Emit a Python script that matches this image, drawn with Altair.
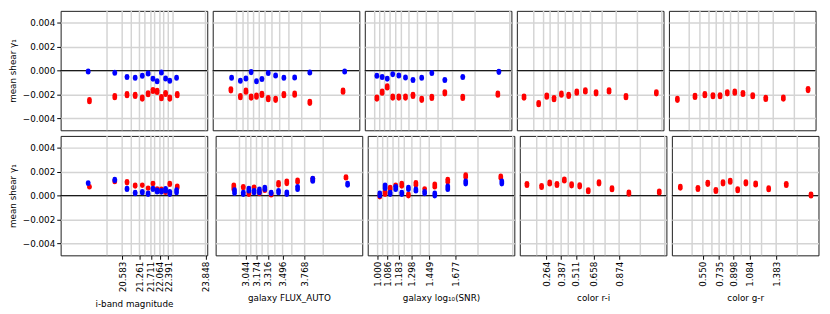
import altair as alt
import pandas as pd

# ---------------- data ----------------
x_titles = ["i-band magnitude", "galaxy FLUX_AUTO", "galaxy log\u2081\u2080(SNR)", "color r-i", "color g-r"]
y_title = "mean shear \u03b3\u2081"

x_domains = [[18.17, 23.92], [2.670, 4.479], [0.914, 2.189], [0.040, 1.271], [0.198, 1.864]]

bin_edges = [
    [19.989, 20.583, 20.941, 21.261, 21.474, 21.711, 21.855, 22.064, 22.210, 22.391, 22.579, 23.848],
    [2.964, 3.044, 3.104, 3.174, 3.244, 3.316, 3.401, 3.496, 3.610, 3.768, 3.997],
    [1.000, 1.044, 1.086, 1.134, 1.183, 1.232, 1.298, 1.372, 1.449, 1.551, 1.677, 1.873, 2.175],
    [0.182, 0.264, 0.319, 0.387, 0.447, 0.511, 0.578, 0.658, 0.756, 0.874, 1.052, 1.257],
    [0.428, 0.550, 0.653, 0.735, 0.817, 0.898, 0.987, 1.084, 1.217, 1.383, 1.623],
]

tick_labels = [
    [20.583, 21.261, 21.711, 22.064, 22.391, 23.848],
    [3.044, 3.174, 3.316, 3.496, 3.768],
    [1.000, 1.086, 1.183, 1.298, 1.449, 1.677],
    [0.264, 0.387, 0.511, 0.658, 0.874],
    [0.550, 0.735, 0.898, 1.084, 1.383],
]

x_red = [
    [19.300, 20.293, 20.773, 21.093, 21.372, 21.600, 21.791, 21.954, 22.122, 22.286, 22.450, 22.743],
    [2.894, 3.011, 3.080, 3.144, 3.210, 3.277, 3.355, 3.446, 3.548, 3.681, 3.868, 4.278],
    [1.019, 1.065, 1.109, 1.157, 1.210, 1.268, 1.333, 1.409, 1.497, 1.610, 1.766, 2.071],
    [0.100, 0.223, 0.291, 0.352, 0.414, 0.475, 0.543, 0.615, 0.705, 0.814, 0.956, 1.211],
    [0.294, 0.494, 0.606, 0.698, 0.779, 0.861, 0.946, 1.039, 1.150, 1.298, 1.498, 1.779],
]
x_blue = [
    [19.250, 20.293, 20.773, 21.093, 21.372, 21.600, 21.791, 21.954, 22.122, 22.286, 22.450, 22.716],
    [2.903, 3.011, 3.080, 3.144, 3.210, 3.277, 3.355, 3.446, 3.548, 3.681, 3.868, 4.298],
    [1.019, 1.065, 1.109, 1.157, 1.210, 1.268, 1.333, 1.409, 1.497, 1.610, 1.766, 2.080],
    None,
    None,
]

# top row: mean shear per bin
top_red = [
    [-0.00252, -0.00219, -0.00202, -0.00208, -0.00230, -0.00194, -0.00167, -0.00175, -0.00227, -0.00192, -0.00230, -0.00202],
    [-0.00161, -0.00219, -0.00173, -0.00222, -0.00214, -0.00200, -0.00235, -0.00241, -0.00202, -0.00198, -0.00266, -0.00173],
    [-0.00230, -0.00181, -0.00137, -0.00222, -0.00222, -0.00222, -0.00208, -0.00241, -0.00225, -0.00186, -0.00225, -0.00198],
    [-0.00222, -0.00277, -0.00214, -0.00235, -0.00198, -0.00208, -0.00181, -0.00170, -0.00186, -0.00170, -0.00219, -0.00186],
    [-0.00241, -0.00216, -0.00202, -0.00211, -0.00211, -0.00186, -0.00181, -0.00192, -0.00211, -0.00233, -0.00230, -0.00159],
]
top_blue = [
    [-0.00008, -0.00019, -0.00054, -0.00060, -0.00044, -0.00025, -0.00068, -0.00090, -0.00016, -0.00066, -0.00085, -0.00060],
    [-0.00060, -0.00085, -0.00066, -0.00013, -0.00090, -0.00071, -0.00021, -0.00041, -0.00060, -0.00058, -0.00016, -0.00008],
    [-0.00044, -0.00054, -0.00068, -0.00030, -0.00041, -0.00058, -0.00079, -0.00060, -0.00021, -0.00079, -0.00054, -0.00011],
    None,
    None,
]

# bottom row: spread (low / high) of the mean shear per bin
bot_red_lo = [
    [0.00070, 0.00115, 0.00105, 0.00078, 0.00084, 0.00060, 0.00098, 0.00052, 0.00050, 0.00025, 0.00091, 0.00064],
    [0.00050, 0.00064, 0.00009, 0.00068, 0.00015, 0.00042, 0.00004, 0.00086, 0.00099, 0.00113, 0.00125, 0.00146],
    [-0.00012, 0.00009, 0.00050, 0.00086, 0.00078, -0.00004, 0.00086, 0.00055, 0.00070, 0.00113, 0.00152, 0.00146],
    [0.00083, 0.00066, 0.00096, 0.00083, 0.00121, 0.00080, 0.00072, 0.00031, 0.00097, 0.00047, 0.00011, 0.00020],
    [0.00061, 0.00050, 0.00093, 0.00033, 0.00097, 0.00110, 0.00039, 0.00097, 0.00088, 0.00047, 0.00083, -0.00005],
]
bot_red_hi = [
    [0.00078, 0.00125, 0.00119, 0.00091, 0.00091, 0.00066, 0.00106, 0.00060, 0.00058, 0.00032, 0.00105, 0.00083],
    [0.00091, 0.00078, 0.00029, 0.00074, 0.00029, 0.00050, 0.00017, 0.00111, 0.00124, 0.00132, 0.00145, 0.00160],
    [0.00001, 0.00037, 0.00072, 0.00091, 0.00105, 0.00015, 0.00111, 0.00060, 0.00099, 0.00138, 0.00176, 0.00165],
    [0.00103, 0.00086, 0.00116, 0.00103, 0.00141, 0.00100, 0.00092, 0.00051, 0.00117, 0.00067, 0.00031, 0.00040],
    [0.00081, 0.00070, 0.00113, 0.00053, 0.00117, 0.00130, 0.00059, 0.00117, 0.00108, 0.00067, 0.00103, 0.00015],
]
bot_blue_lo = [
    [0.00100, 0.00124, 0.00050, 0.00015, 0.00023, 0.00009, 0.00050, 0.00029, 0.00028, 0.00037, 0.00009, 0.00023],
    [0.00017, 0.00009, 0.00037, 0.00023, 0.00023, 0.00050, 0.00015, 0.00023, 0.00009, 0.00050, 0.00119, 0.00086],
    [-0.00004, 0.00058, 0.00009, 0.00050, 0.00009, 0.00050, 0.00037, 0.00015, -0.00004, 0.00050, 0.00097, 0.00097],
    None,
    None,
]
bot_blue_hi = [
    [0.00110, 0.00138, 0.00064, 0.00029, 0.00037, 0.00023, 0.00064, 0.00049, 0.00045, 0.00062, 0.00037, 0.00050],
    [0.00050, 0.00029, 0.00064, 0.00045, 0.00056, 0.00072, 0.00029, 0.00045, 0.00031, 0.00078, 0.00146, 0.00105],
    [0.00023, 0.00091, 0.00029, 0.00078, 0.00029, 0.00072, 0.00056, 0.00037, 0.00023, 0.00083, 0.00124, 0.00124],
    None,
    None,
]

y_domain = [-0.005, 0.005]
y_ticks = [-0.004, -0.002, 0.0, 0.002, 0.004]

# ---------------- styling ----------------
W, H = 150.4, 122.5
RED, BLUE = "#ff0000", "#0000ff"
GRID = "#d4d4d4"
CAP = 4.8


def panel(p, row):
    first = p == 0
    bottom = row == 1
    xs = alt.Scale(domain=x_domains[p], nice=False, zero=False)
    ys = alt.Scale(domain=y_domain, nice=False, zero=False)
    if bottom:
        xaxis = alt.Axis(values=tick_labels[p], format=".3f", labelAngle=-90, grid=False,
                         domain=False, labelFlush=False, labelOverlap=False, title=x_titles[p])
    else:
        xaxis = None
    if first:
        yaxis = alt.Axis(values=y_ticks, format=".3f", grid=True, domain=False,
                         labelFlush=False, labelOverlap=False, title=y_title)
    else:
        yaxis = alt.Axis(values=y_ticks, grid=True, domain=False, labels=False,
                         ticks=False, title=None)

    vgrid = alt.Chart(pd.DataFrame({"x": bin_edges[p]})).mark_rule(
        color=GRID, strokeWidth=1.5
    ).encode(x=alt.X("x:Q", scale=xs, axis=xaxis))

    zero = alt.Chart(pd.DataFrame({"lo": [0.0]})).mark_rule(
        color="#1a1a1a", strokeWidth=1.2
    ).encode(y=alt.Y("lo:Q", scale=ys, axis=yaxis))

    layers = [vgrid, zero]
    if not bottom:
        series = [(x_red[p], top_red[p], RED, 1.3), (x_blue[p], top_blue[p], BLUE, 0.7)]
        for xv, cv, col, off in series:
            if cv is None:
                continue
            df = pd.DataFrame({"x": xv, "lo": cv, "hi": cv})
            layers.append(
                alt.Chart(df).mark_rule(color=col, strokeWidth=CAP, strokeCap="round",
                                        yOffset=-off, y2Offset=off)
                .encode(x=alt.X("x:Q", scale=xs, axis=xaxis),
                        y=alt.Y("lo:Q", scale=ys, axis=yaxis), y2="hi:Q")
            )
    else:
        series = [(x_red[p], bot_red_lo[p], bot_red_hi[p], RED),
                  (x_blue[p], bot_blue_lo[p], bot_blue_hi[p], BLUE)]
        for xv, lo, hi, col in series:
            if lo is None:
                continue
            df = pd.DataFrame({"x": xv, "lo": lo, "hi": hi})
            layers.append(
                alt.Chart(df).mark_rule(color=col, strokeWidth=CAP, strokeCap="round")
                .encode(x=alt.X("x:Q", scale=xs, axis=xaxis),
                        y=alt.Y("lo:Q", scale=ys, axis=yaxis), y2="hi:Q")
            )
    return alt.layer(*layers).properties(width=W, height=H)


rows = [alt.hconcat(*[panel(p, r) for p in range(5)], spacing=2) for r in range(2)]

chart = (
    alt.vconcat(*rows, spacing=2.3)
    .resolve_scale(x="independent", y="independent")
    .properties(padding={"left": 0, "top": -3, "right": 2, "bottom": 0})
    .configure_view(stroke="#1a1a1a", strokeWidth=1)
    .configure_axis(
        labelFont="DejaVu Sans", titleFont="DejaVu Sans",
        labelFontSize=9, titleFontSize=9, labelColor="#000", titleColor="#000",
        titleFontWeight="normal", tickColor="#000", tickSize=4, labelPadding=2,
        gridColor=GRID, gridWidth=1.5,
    )
    .configure_axisX(titlePadding=8)
    .configure_axisY(titlePadding=5)
)

chart.save("out.html", embed_options={"renderer": "svg", "actions": False})
